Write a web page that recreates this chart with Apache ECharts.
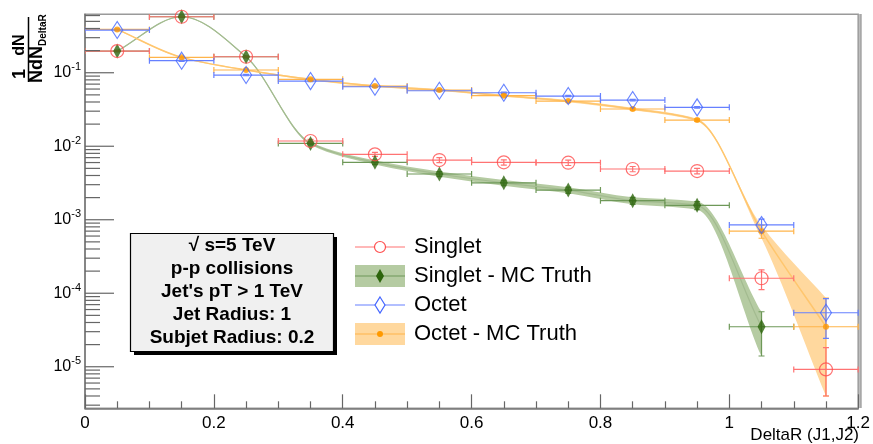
<!DOCTYPE html>
<html><head><meta charset="utf-8">
<script src="https://cdn.jsdelivr.net/npm/echarts@6/dist/echarts.min.js"></script>
<style>html,body{margin:0;padding:0;background:#fff}#c{width:873px;height:444px}</style>
</head><body><div id="c"></div>
<script>
// ---- data ----
const xCenters = [0.05,0.15,0.25,0.35,0.45,0.55,0.65,0.75,0.85,0.95,1.05,1.15];
const binHalfWidth = 0.05;

const singlet        = [0.197,0.578,0.165,0.01178,0.00776,0.00649,0.00604,0.00597,0.0049,0.0046,1.6e-4,9.2e-6];
const singletErrUp   = [0.004,0.008,0.004,0.0006,0.0005,0.0005,0.0005,0.0005,0.0004,0.0004,4.8e-5,9.0e-6];
const singletErrDown = [0.004,0.008,0.004,0.0006,0.0005,0.0005,0.0005,0.0005,0.0004,0.0004,4.8e-5,5.2e-6];

const singletTruth        = [0.197,0.578,0.165,0.01094,0.00604,0.00419,0.00318,0.00253,0.00182,0.00157,3.5e-5,null];
const singletTruthErrUp   = [0.004,0.01,0.004,0.0005,0.0004,0.00033,0.00028,0.00024,0.0002,0.0002,2.1e-5,null];
const singletTruthErrDown = [0.004,0.01,0.004,0.0005,0.0004,0.00033,0.00028,0.00024,0.0002,0.0002,2.1e-5,null];

const octet        = [0.381,0.146,0.093,0.077,0.0645,0.0569,0.0534,0.0482,0.0425,0.0338,8.5e-4,5.43e-5];
const octetErrUp   = [0.008,0.003,0.002,0.0015,0.0013,0.0012,0.0011,0.001,0.001,0.0009,1.7e-4,3.0e-5];
const octetErrDown = [0.008,0.003,0.002,0.0015,0.0013,0.0012,0.0011,0.001,0.001,0.0009,1.7e-4,3.0e-5];

const octetTruth        = [0.389,0.162,0.109,0.0813,0.0659,0.0582,0.0487,0.0412,0.0321,0.0227,7.0e-4,3.5e-5];
const octetTruthErrUp   = [0.006,0.003,0.002,0.0025,0.002,0.0018,0.0016,0.0014,0.0012,0.0009,1.4e-4,5.1e-5];
const octetTruthErrDown = [0.006,0.003,0.002,0.0025,0.002,0.0018,0.0016,0.0014,0.0012,0.0009,1.4e-4,3.1e-5];

const xMin = 0, xMax = 1.2, xInterval = 0.2;
const yMin = 2.72e-6, yMax = 0.624;
const yMajorTicks = [1e-5,1e-4,1e-3,1e-2,1e-1];
const legendLabels = ['Singlet','Singlet - MC Truth','Octet','Octet - MC Truth'];
const infoLines = ['\u221A s=5 TeV','p-p collisions',"Jet's pT > 1 TeV",'Jet Radius: 1','Subjet Radius: 0.2'];
const xTitle = 'DeltaR (J1,J2)';

// ---- styling ----
const FONT = '"Liberation Sans", Arial, Helvetica, sans-serif';
const C = {
  red:'#ff4d4d', redBar:'#ff7373',
  green:'#2d650c', greenBar:'#6e9858', greenBand:'#b5cba2', greenLine:'#a3bb90',
  blue:'#4466ff', blueBar:'#6680ff',
  orange:'#ff9900', orangeBar:'#ffb44a', orangeBand:'#ffd89e', orangeLine:'#ffc66e'
};

const chart = echarts.init(document.getElementById('c'), null, { renderer:'canvas' });

const yMinorTicks = [];
for (let e = -6; e <= 0; e++) for (let k = 2; k <= 9; k++) {
  const v = k * Math.pow(10, e);
  if (v > yMin && v < yMax) yMinorTicks.push(v);
}

// monotone cubic (Fritsch-Butland) segments in pixel space
function monoSegments(pts) {
  const n = pts.length, dx = [], m = [], t = [];
  for (let i = 0; i < n - 1; i++) { dx[i] = pts[i+1][0] - pts[i][0]; m[i] = (pts[i+1][1] - pts[i][1]) / dx[i]; }
  t[0] = m[0]; t[n-1] = m[n-2];
  for (let i = 1; i < n - 1; i++) {
    if (m[i-1] * m[i] <= 0) t[i] = 0;
    else t[i] = 3 * (dx[i-1] + dx[i]) / ((2*dx[i] + dx[i-1]) / m[i-1] + (dx[i] + 2*dx[i-1]) / m[i]);
  }
  const segs = [];
  for (let i = 0; i < n - 1; i++) {
    const h = dx[i] / 3;
    segs.push({ a:pts[i], c1:[pts[i][0] + h, pts[i][1] + t[i]*h], c2:[pts[i+1][0] - h, pts[i+1][1] - t[i+1]*h], b:pts[i+1] });
  }
  return segs;
}
const f = p => p[0].toFixed(2) + ',' + p[1].toFixed(2);
function fwdPath(segs) { return segs.map(s => ' C' + f(s.c1) + ' ' + f(s.c2) + ' ' + f(s.b)).join(''); }
function revPath(segs) { return segs.slice().reverse().map(s => ' C' + f(s.c2) + ' ' + f(s.c1) + ' ' + f(s.a)).join(''); }

function validIdx(vals) { return xCenters.map((x,i)=>i).filter(i => vals[i] != null); }

function bandSeries(vals, up, dn, fill) {
  const idx = validIdx(vals);
  return {
    type:'custom', z:1, silent:true, clip:true,
    data:[[xCenters[idx[0]], vals[idx[0]]]],
    renderItem(params, api) {
      const upper = idx.map(i => api.coord([xCenters[i], vals[i] + up[i]]));
      const lower = idx.map(i => api.coord([xCenters[i], Math.max(vals[i] - dn[i], 1e-8)]));
      const d = 'M' + f(upper[0]) + fwdPath(monoSegments(upper)) +
                ' L' + f(lower[lower.length-1]) + revPath(monoSegments(lower)) + ' Z';
      return { type:'path', shape:{ pathData:d }, style:{ fill:fill, stroke:null } };
    }
  };
}

function curveSeries(vals, color, width) {
  const idx = validIdx(vals);
  return {
    type:'custom', z:2, silent:true, clip:true,
    data:[[xCenters[idx[0]], vals[idx[0]]]],
    renderItem(params, api) {
      const pts = idx.map(i => api.coord([xCenters[i], vals[i]]));
      const d = 'M' + f(pts[0]) + fwdPath(monoSegments(pts));
      return { type:'path', shape:{ pathData:d }, style:{ fill:null, stroke:color, lineWidth:width } };
    }
  };
}

function errSeries(vals, up, dn, color) {
  return {
    type:'custom', z:3, silent:true, clip:true,
    encode:{ x:0, y:1 },
    data: validIdx(vals).map(i => [xCenters[i], vals[i], up[i], dn[i]]),
    renderItem(params, api) {
      const x = api.value(0), y = api.value(1), u = api.value(2), d = api.value(3);
      const L = api.coord([x - binHalfWidth, y]), R = api.coord([x + binHalfWidth, y]);
      const T = api.coord([x, y + u]), B = api.coord([x, Math.max(y - d, 1e-8)]);
      const cap = 3;
      const st = { stroke: color, lineWidth: 1.2 };
      const ln = (x1,y1,x2,y2) => ({ type:'line', shape:{x1,y1,x2,y2}, style:st });
      return { type:'group', children:[
        ln(L[0],L[1],R[0],R[1]),
        ln(L[0],L[1]-cap,L[0],L[1]+cap),
        ln(R[0],R[1]-cap,R[0],R[1]+cap),
        ln(T[0],T[1],B[0],B[1]),
        ln(T[0]-cap,T[1],T[0]+cap,T[1]),
        ln(B[0]-cap,B[1],B[0]+cap,B[1])
      ]};
    }
  };
}

function markerSeries(vals, symbol, size, itemStyle) {
  return {
    type:'scatter', z:4, silent:true, symbol, symbolSize:size, itemStyle,
    data: validIdx(vals).map(i => [xCenters[i], vals[i]])
  };
}

function yTickSeries(values, len) {
  return {
    type:'custom', z:5, silent:true,
    data: values.map(v => [xMin, v]),
    renderItem(params, api) {
      const p = api.coord([api.value(0), api.value(1)]);
      return { type:'line', shape:{ x1:p[0], y1:p[1], x2:p[0]+len, y2:p[1] }, style:{ stroke:'#666', lineWidth:1.2 } };
    }
  };
}

// ---- graphics: y title, info box, legend, x title ----
const graphics = [];
graphics.push({ type:'text', x:20, y:74, rotation:Math.PI/2, style:{ text:'1', font:'bold 18px ' + FONT, fill:'#000', align:'center', verticalAlign:'middle' } });
graphics.push({ type:'text', x:20, y:45, rotation:Math.PI/2, style:{ text:'dN', font:'bold 16px ' + FONT, fill:'#000', align:'center', verticalAlign:'middle' } });
graphics.push({ type:'line', shape:{ x1:28.5, y1:17, x2:28.5, y2:82 }, style:{ stroke:'#000', lineWidth:1.5 } });
graphics.push({ type:'text', x:38, y:83, rotation:Math.PI/2, style:{
  text:'{b|NdN}{s|DeltaR}', align:'left', verticalAlign:'middle',
  rich:{ b:{ font:'bold 18px ' + FONT, fill:'#000', verticalAlign:'top', lineHeight:20 },
         s:{ font:'bold 10px ' + FONT, fill:'#000', verticalAlign:'bottom', lineHeight:12 } } } });

graphics.push({ type:'rect', shape:{ x:134, y:237, width:203, height:118 }, style:{ fill:'#000' } });
graphics.push({ type:'rect', shape:{ x:130.5, y:233.5, width:203, height:118 }, style:{ fill:'#f0f0f0', stroke:'#000', lineWidth:1.2 } });
infoLines.forEach((t, i) => {
  graphics.push({ type:'text', x:232, y:246 + i*23, style:{ text:t, font:'bold 19px ' + FONT, fill:'#000', align:'center', verticalAlign:'middle' } });
});

const legY = [247, 276, 305, 334];
const lx0 = 355, lx1 = 405, lxc = 380;
graphics.push({ type:'line', shape:{x1:lx0,y1:legY[0],x2:lx1,y2:legY[0]}, style:{stroke:C.redBar,lineWidth:1.2} });
graphics.push({ type:'circle', shape:{cx:lxc,cy:legY[0],r:5.5}, style:{fill:'#fff',stroke:C.red,lineWidth:1.2} });
graphics.push({ type:'rect', shape:{x:lx0,y:legY[1]-11,width:lx1-lx0,height:22}, style:{fill:C.greenBand} });
graphics.push({ type:'line', shape:{x1:lx0,y1:legY[1],x2:lx1,y2:legY[1]}, style:{stroke:C.greenBar,lineWidth:1.2} });
graphics.push({ type:'polygon', shape:{points:[[lxc,legY[1]-7],[lxc+4,legY[1]],[lxc,legY[1]+7],[lxc-4,legY[1]]]}, style:{fill:C.green} });
graphics.push({ type:'line', shape:{x1:lx0,y1:legY[2],x2:lx1,y2:legY[2]}, style:{stroke:C.blueBar,lineWidth:1.2} });
graphics.push({ type:'polygon', shape:{points:[[lxc,legY[2]-8],[lxc+5,legY[2]],[lxc,legY[2]+8],[lxc-5,legY[2]]]}, style:{fill:'#fff',stroke:C.blue,lineWidth:1.2} });
graphics.push({ type:'rect', shape:{x:lx0,y:legY[3]-11,width:lx1-lx0,height:22}, style:{fill:C.orangeBand} });
graphics.push({ type:'line', shape:{x1:lx0,y1:legY[3],x2:lx1,y2:legY[3]}, style:{stroke:C.orangeBar,lineWidth:1.2} });
graphics.push({ type:'circle', shape:{cx:lxc,cy:legY[3],r:3}, style:{fill:C.orange} });
legendLabels.forEach((t, i) => {
  graphics.push({ type:'text', x:414, y:legY[i], style:{ text:t, font:'22px ' + FONT, fill:'#000', align:'left', verticalAlign:'middle' } });
});
graphics.push({ type:'text', x:859, y:435, style:{ text:xTitle, font:'17px ' + FONT, fill:'#000', align:'right', verticalAlign:'middle' } });
// thicker right frame edge
graphics.push({ type:'line', shape:{ x1:860.5, y1:14, x2:860.5, y2:408 }, style:{ stroke:'#a8a8a8', lineWidth:2.5 }, z:10 });

const option = {
  animation:false,
  backgroundColor:'#fff',
  grid:{ left:85, right:13.5, top:14.3, bottom:35.7, show:true, borderColor:'#9a9a9a', borderWidth:1.5, backgroundColor:'transparent' },
  xAxis:{
    type:'value', min:xMin, max:xMax, interval:xInterval,
    axisLine:{ show:true, lineStyle:{ color:'#777', width:1.5 } },
    axisTick:{ show:true, inside:true, length:14, lineStyle:{ color:'#666', width:1.2 } },
    minorTick:{ show:true, splitNumber:4, length:7, lineStyle:{ color:'#666', width:1.2 } },
    splitLine:{ show:false },
    axisLabel:{ margin:7, fontSize:17, fontFamily:FONT, color:'#000',
      formatter: v => String(Math.round(v*10)/10) }
  },
  yAxis:{
    type:'log', logBase:10, min:yMin, max:yMax,
    axisLine:{ show:true, lineStyle:{ color:'#777', width:1.5 } },
    axisTick:{ show:false }, minorTick:{ show:false },
    splitLine:{ show:false },
    axisLabel:{ margin:4, fontFamily:FONT, color:'#000',
      formatter: v => {
        const e = Math.log10(v);
        if (Math.abs(e - Math.round(e)) > 1e-6) return '';
        return '{b|10}{s|' + Math.round(e) + '}';
      },
      rich:{ b:{ fontSize:16, fontFamily:FONT, color:'#000', lineHeight:22, verticalAlign:'middle' },
             s:{ fontSize:11, fontFamily:FONT, color:'#000', lineHeight:10, verticalAlign:'top' } }
    }
  },
  graphic: graphics,
  series:[
    yTickSeries(yMajorTicks, 29),
    yTickSeries(yMinorTicks, 15),
    bandSeries(singletTruth, singletTruthErrUp, singletTruthErrDown, C.greenBand),
    bandSeries(octetTruth, octetTruthErrUp, octetTruthErrDown, C.orangeBand),
    curveSeries(singletTruth, C.greenLine, 1.2),
    curveSeries(octetTruth, C.orangeLine, 1.5),
    errSeries(singletTruth, singletTruthErrUp, singletTruthErrDown, C.greenBar),
    errSeries(octetTruth, octetTruthErrUp, octetTruthErrDown, C.orangeBar),
    errSeries(singlet, singletErrUp, singletErrDown, C.redBar),
    errSeries(octet, octetErrUp, octetErrDown, C.blueBar),
    markerSeries(octetTruth, 'circle', 6, { color:C.orange }),
    markerSeries(singletTruth, 'diamond', [8,15], { color:C.green }),
    markerSeries(singlet, 'circle', 13, { color:'rgba(255,255,255,0)', borderColor:C.red, borderWidth:1.2 }),
    markerSeries(octet, 'diamond', [11,17], { color:'rgba(255,255,255,0)', borderColor:C.blue, borderWidth:1.2 })
  ]
};
chart.setOption(option);
</script></body></html>
